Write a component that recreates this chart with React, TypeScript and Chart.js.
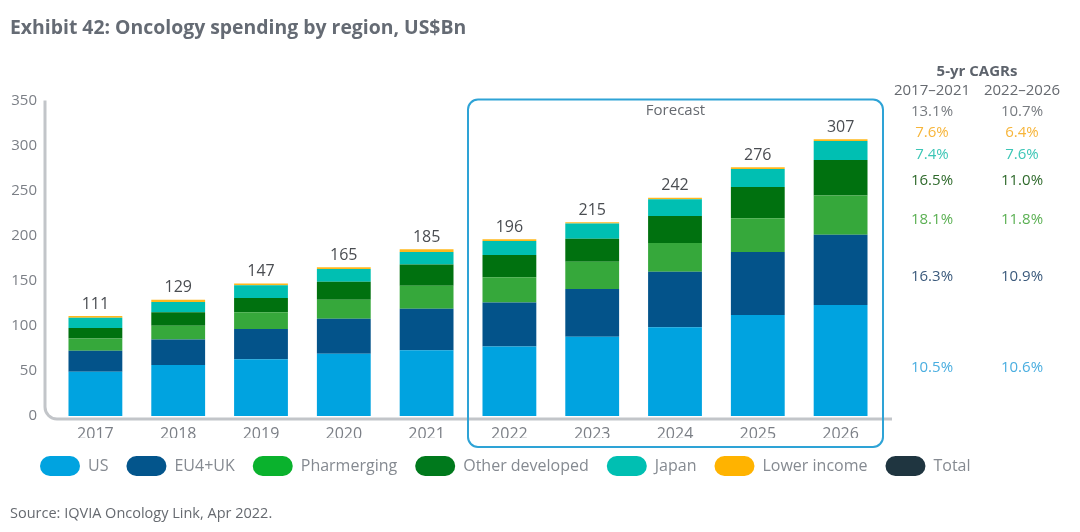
import React, { useEffect, useRef } from "react";
import { Chart, registerables } from "chart.js";

Chart.register(...registerables);

const years = ["2017", "2018", "2019", "2020", "2021", "2022", "2023", "2024", "2025", "2026"];
const us = [49, 56.5, 63, 69, 73, 77, 88, 98.5, 112, 123];
const eu = [23.5, 28.5, 33.5, 39, 46, 49, 53, 61.5, 70, 78];
const pharm = [13.5, 15, 18.5, 21, 25.5, 28, 30, 32, 37.5, 43.5];
const otherDev = [11.5, 15, 16, 20, 23.5, 24.5, 25.5, 30, 34.5, 39.5];
const japan = [11.5, 11.5, 14, 14, 14, 15.5, 17, 18.5, 20, 21];
const lowerIncome = [2, 2.5, 2, 2, 3, 2, 1.5, 1.5, 2, 2];
const totals = [111, 129, 147, 165, 185, 196, 215, 242, 276, 307];

const seriesNames = ["US", "EU4+UK", "Pharmerging", "Other developed", "Japan", "Lower income", "Total"];
const barColors = ["#00a3e0", "#03538a", "#36a83b", "#00710f", "#00bfb2", "#ffb81c", "#1f3540"];
const legendColors = ["#00a3e0", "#03558c", "#0ab22d", "#00791c", "#00bfb2", "#ffb300", "#1f3540"];

const cagrHeaders = ["2017–2021", "2022–2026"];
const cagrFirst = ["13.1%", "7.6%", "7.4%", "16.5%", "18.1%", "16.3%", "10.5%"];
const cagrSecond = ["10.7%", "6.4%", "7.6%", "11.0%", "11.8%", "10.9%", "10.6%"];
const cagrColors = ["#777b80", "#f7b53a", "#3cc6b6", "#2f6a2c", "#5bb053", "#3b5a7c", "#4aaee0"];
const cagrRowY = [104, 125, 147, 173, 212, 269, 360];

const FONT = "'Open Sans', sans-serif";

const overlayPlugin = {
  id: "overlay",
  afterLayout(chart: any) {
    if (chart.legend) {
      chart.legend.left += 14;
      chart.legend.right += 14;
    }
  },
  beforeDatasetsDraw(chart: any) {
    const { ctx, chartArea } = chart;
    ctx.save();
    ctx.strokeStyle = "#c2c5c9";
    ctx.lineWidth = 3;
    const x0 = chartArea.left - 9;
    const y0 = chartArea.bottom + 3;
    const r = 12;
    ctx.beginPath();
    ctx.moveTo(x0, chartArea.top);
    ctx.lineTo(x0, y0 - r);
    ctx.arcTo(x0, y0, x0 + r, y0, r);
    ctx.lineTo(chartArea.right + 10, y0);
    ctx.stroke();
    ctx.restore();
  },
  afterDraw(chart: any) {
    const { ctx, chartArea, scales } = chart;
    const x = scales.x;
    const y = scales.y;
    ctx.save();
    // title
    ctx.fillStyle = "#656b74";
    ctx.font = `bold 19.4px ${FONT}`;
    ctx.textAlign = "left";
    ctx.textBaseline = "middle";
    ctx.fillText("Exhibit 42: Oncology spending by region, US$Bn", 2, 20);

    // forecast box
    const left = (x.getPixelForValue(4) + x.getPixelForValue(5)) / 2;
    const right = chartArea.right + 1;
    const top = chartArea.top - 1;
    const bottom = chartArea.bottom + 31;
    ctx.strokeStyle = "#2ea3d6";
    ctx.lineWidth = 2;
    ctx.beginPath();
    ctx.roundRect(left, top, right - left, bottom - top, 10);
    ctx.stroke();
    ctx.fillStyle = "#666a70";
    ctx.font = `15px ${FONT}`;
    ctx.textAlign = "center";
    ctx.fillText("Forecast", (left + right) / 2, top + 11);

    // totals
    ctx.fillStyle = "#4a4d52";
    ctx.font = `16px ${FONT}`;
    totals.forEach((t, i) => {
      ctx.fillText(String(t), x.getPixelForValue(i), y.getPixelForValue(t) - 12);
    });

    // CAGR table
    const c1 = 924;
    const c2 = 1014;
    ctx.fillStyle = "#5d636c";
    ctx.font = `bold 15px ${FONT}`;
    ctx.fillText("5-yr CAGRs", (c1 + c2) / 2, 64);
    ctx.font = `15px ${FONT}`;
    ctx.fillStyle = "#666a70";
    ctx.fillText(cagrHeaders[0], c1, 83);
    ctx.fillText(cagrHeaders[1], c2, 83);
    cagrFirst.forEach((v, i) => {
      ctx.fillStyle = cagrColors[i];
      ctx.fillText(v, c1, cagrRowY[i]);
      ctx.fillText(cagrSecond[i], c2, cagrRowY[i]);
    });

    // source
    ctx.fillStyle = "#666a70";
    ctx.font = `14.5px ${FONT}`;
    ctx.textAlign = "left";
    ctx.fillText("Source: IQVIA Oncology Link, Apr 2022.", 2, 506);
    ctx.restore();
  },
};

export default function App() {
  const ref = useRef<HTMLCanvasElement>(null);
  useEffect(() => {
    if (!ref.current) return;
    Chart.defaults.font.family = FONT;
    const barSeries = [us, eu, pharm, otherDev, japan, lowerIncome];
    const datasets: any[] = barSeries.map((d, i) => ({
      type: "bar",
      label: seriesNames[i],
      data: d,
      backgroundColor: barColors[i],
      borderWidth: 0,
      stack: "main",
      barPercentage: 0.65,
      categoryPercentage: 1,
    }));
    datasets.push({
      type: "line",
      label: seriesNames[6],
      data: totals,
      backgroundColor: barColors[6],
      borderColor: barColors[6],
      showLine: false,
      pointRadius: 0,
      stack: "total",
    });
    const chart = new Chart(ref.current, {
      type: "bar",
      data: { labels: years, datasets },
      plugins: [overlayPlugin],
      options: {
        animation: false,
        responsive: true,
        maintainAspectRatio: false,
        layout: { padding: { left: 0, right: 0, top: 92.5, bottom: 38 } },
        scales: {
          x: {
            stacked: true,
            grid: { display: false, drawTicks: false },
            border: { display: false },
            ticks: { color: "#7b7f86", font: { size: 16, family: FONT }, padding: 9 },
            afterFit(s: any) {
              s.height = 22;
            },
          },
          y: {
            stacked: true,
            min: 0,
            max: 350,
            grid: { display: false, drawTicks: false },
            border: { display: false },
            ticks: { stepSize: 50, color: "#7b7f86", font: { size: 15, family: FONT }, padding: 17 },
            afterFit(s: any) {
              s.width = 46;
            },
          },
          y2: {
            position: "right",
            display: true,
            grid: { display: false, drawTicks: false },
            border: { display: false },
            ticks: { display: false },
            afterFit(s: any) {
              s.width = 190;
            },
          },
        },
        plugins: {
          tooltip: { enabled: false },
          title: { display: false },
          legend: {
            position: "bottom",
            align: "start",
            labels: {
              boxWidth: 40,
              boxHeight: 20,
              padding: 18,
              useBorderRadius: true,
              borderRadius: 10,
              color: "#858a91",
              font: { size: 16, family: FONT },
              generateLabels(c: any) {
                const items = Chart.defaults.plugins.legend.labels.generateLabels(c);
                return items.map((it: any, i: number) => ({
                  ...it,
                  fillStyle: legendColors[i],
                  strokeStyle: legendColors[i],
                  lineWidth: 0,
                  borderRadius: 10,
                  lineDash: [],
                  pointStyle: undefined,
                }));
              },
            },
          },
        },
      } as any,
    });
    return () => chart.destroy();
  }, []);
  return (
    <div style={{ width: 1064, height: 516, position: "relative" }}>
      <canvas ref={ref} />
    </div>
  );
}
